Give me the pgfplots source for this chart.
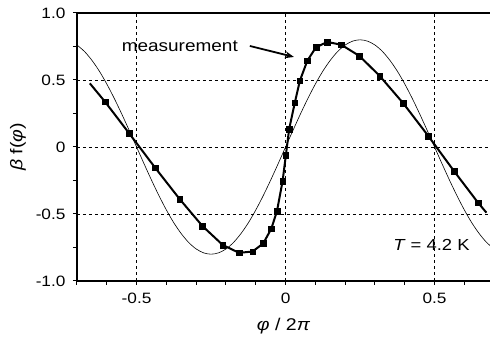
\documentclass[border=0pt]{standalone}
\usepackage{fontspec}
\setmainfont{Liberation Sans}[FakeStretch=1.15]
\usepackage{pgfplots}
\usetikzlibrary{arrows.meta}
\pgfplotsset{compat=1.18}
\begin{document}
\begin{tikzpicture}
\begin{axis}[
  scale only axis, width=413bp, height=268bp,
  xmin=-0.7, xmax=0.686, ymin=-1, ymax=1,
  axis x line*=box, axis y line*=left,
  axis line style={line width=1.4bp},
  xtick={-0.5,0,0.5}, xticklabels={-0.5,0,0.5},
  ytick={-1,-0.5,0,0.5,1}, yticklabels={-1.0,-0.5,0,0.5,1.0},
  minor xtick={-0.7,-0.6,-0.4,-0.3,-0.2,-0.1,0.1,0.2,0.3,0.4,0.6},
  minor ytick={-0.75,-0.25,0.25,0.75},
  tick align=outside, major tick length=4bp, minor tick length=4bp,
  tick style={black, line width=1bp},
  xtick pos=bottom, ytick pos=left,
  grid=major, grid style={black, line width=0.7bp, dash pattern=on 3bp off 3bp},
  /pgf/number format/assume math mode=true,
  tick label style={font=\fontsize{15bp}{15bp}\selectfont},
  xticklabel style={yshift=-5bp},
  yticklabel style={xshift=-4bp},
  xlabel={\textit{φ} / 2\textit{π}},
  ylabel={\textit{β} f(\textit{φ})},
  label style={font=\fontsize{17bp}{17bp}\selectfont},
  xlabel style={yshift=-7bp},
  ylabel style={yshift=3bp},
]
% thin sine reference
\addplot[black, line width=0.6bp, smooth] coordinates {
(-0.7,0.761) (-0.675,0.713) (-0.65,0.647) (-0.625,0.566) (-0.6,0.470) (-0.575,0.363)
(-0.55,0.247) (-0.525,0.125) (-0.5,0) (-0.475,-0.125) (-0.45,-0.247) (-0.425,-0.363)
(-0.4,-0.470) (-0.375,-0.566) (-0.35,-0.647) (-0.325,-0.713) (-0.3,-0.761) (-0.275,-0.790)
(-0.25,-0.8) (-0.225,-0.790) (-0.2,-0.761) (-0.175,-0.713) (-0.15,-0.647) (-0.125,-0.566)
(-0.1,-0.470) (-0.075,-0.363) (-0.05,-0.247) (-0.025,-0.125) (0,0) (0.025,0.125)
(0.05,0.247) (0.075,0.363) (0.1,0.470) (0.125,0.566) (0.15,0.647) (0.175,0.713)
(0.2,0.761) (0.225,0.790) (0.25,0.8) (0.275,0.790) (0.3,0.761) (0.325,0.713)
(0.35,0.647) (0.375,0.566) (0.4,0.470) (0.425,0.363) (0.45,0.247) (0.475,0.125)
(0.5,0) (0.525,-0.125) (0.55,-0.247) (0.575,-0.363) (0.6,-0.470) (0.625,-0.566)
(0.65,-0.647) (0.675,-0.713) (0.7,-0.761)
};
% measurement line
\addplot[black, line width=2bp] coordinates {
(-0.657,0.475) (-0.606,0.338) (-0.525,0.102) (-0.438,-0.154) (-0.355,-0.39)
(-0.279,-0.59) (-0.211,-0.731) (-0.156,-0.79) (-0.111,-0.78) (-0.075,-0.72)
(-0.048,-0.61) (-0.029,-0.48) (-0.010,-0.254) (0.001,-0.06) (0.012,0.134)
(0.031,0.331) (0.048,0.495) (0.073,0.644) (0.102,0.744) (0.14,0.784)
(0.187,0.763) (0.248,0.679) (0.316,0.53) (0.395,0.326) (0.479,0.082)
(0.565,-0.179) (0.646,-0.416) (0.674,-0.49)
};
% measurement markers
\addplot[only marks, mark=square*, mark size=2.8bp, black] coordinates {
(-0.606,0.338) (-0.525,0.102) (-0.438,-0.154) (-0.355,-0.39)
(-0.279,-0.59) (-0.211,-0.731) (-0.156,-0.79) (-0.111,-0.78) (-0.075,-0.72)
(-0.048,-0.61) (-0.029,-0.48) (-0.010,-0.254) (0.001,-0.06) (0.012,0.134)
(0.031,0.331) (0.048,0.495) (0.073,0.644) (0.102,0.744) (0.14,0.784)
(0.187,0.763) (0.248,0.679) (0.316,0.53) (0.395,0.326) (0.479,0.082)
(0.565,-0.179) (0.646,-0.416)
};
\node[anchor=base, font=\fontsize{16.5bp}{16.5bp}\selectfont, inner sep=0pt] at (axis cs:-0.355,0.716) {measurement};
\draw[-{Stealth[length=9bp,width=7bp]}, line width=1.8bp] (axis cs:-0.120,0.754) -- (axis cs:0.028,0.672);
\node[anchor=base east, font=\fontsize{16bp}{16bp}\selectfont, inner sep=0pt] at (axis cs:0.618,-0.776) {\textit{T} = 4.2 K};
\end{axis}
\pgfresetboundingbox
\path ([xshift=-77bp,yshift=-66bp]current axis.south west) rectangle ([yshift=13bp]current axis.north east);
\end{tikzpicture}
\end{document}
